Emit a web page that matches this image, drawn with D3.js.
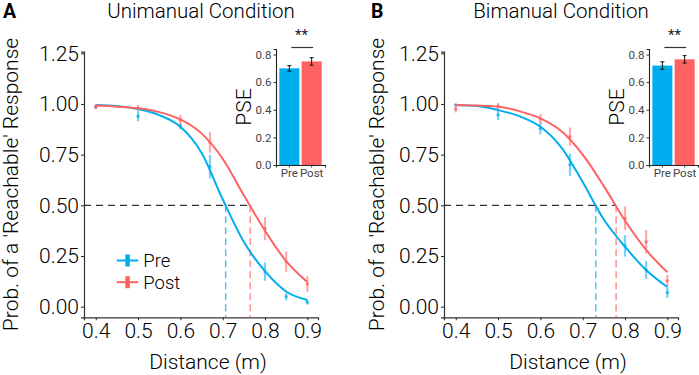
<!DOCTYPE html>
<html><head><meta charset="utf-8">
<script src="https://cdn.jsdelivr.net/npm/d3@7"></script>
<style>
html,body{margin:0;padding:0;background:#fff;}
svg{display:block;font-family:Roboto,"Liberation Sans",Arial,sans-serif;}
</style></head>
<body><svg id="c" width="699" height="375"></svg>
<script>
// ---------- DATA ----------
const distances = [0.4, 0.5, 0.6, 0.67, 0.8, 0.85, 0.9];
const xTicks = [0.4, 0.5, 0.6, 0.7, 0.8, 0.9];
const yTicks = [0, 0.25, 0.5, 0.75, 1.0, 1.25];
const insetTicks = [0, 0.2, 0.4, 0.6, 0.8];
const groups = ["Pre", "Post"];
const panelLetters = ["A", "B"];
const panelTitles = ["Unimanual Condition", "Bimanual Condition"];

// observed means and error bars
const uniPreMean  = [0.985, 0.94, 0.89, 0.69, 0.173, 0.05, 0.022];
const uniPreErr   = [0.008, 0.025, 0.015, 0.058, 0.045, 0.018, 0.012];
const uniPostMean = [0.987, 0.98, 0.92, 0.81, 0.385, 0.222, 0.112];
const uniPostErr  = [0.012, 0.015, 0.025, 0.05, 0.057, 0.05, 0.038];
const biPreMean   = [0.995, 0.946, 0.88, 0.70, 0.30, 0.181, 0.069];
const biPreErr    = [0.008, 0.025, 0.03, 0.055, 0.053, 0.044, 0.026];
const biPostMean  = [0.975, 0.99, 0.926, 0.839, 0.436, 0.32, 0.128];
const biPostErr   = [0.017, 0.015, 0.025, 0.045, 0.058, 0.058, 0.029];

// fitted curves
const fitX        = [0.4, 0.45, 0.5, 0.55, 0.6, 0.65, 0.7, 0.75, 0.8, 0.85, 0.9];
const uniPreFit   = [0.995, 0.99, 0.975, 0.945, 0.888, 0.76, 0.53, 0.32, 0.175, 0.075, 0.033];
const uniPostFit  = [0.992, 0.987, 0.979, 0.96, 0.924, 0.855, 0.73, 0.55, 0.375, 0.225, 0.122];
const biPreFit    = [0.995, 0.99, 0.97, 0.94, 0.888, 0.785, 0.615, 0.43, 0.296, 0.181, 0.097];
const biPostFit   = [0.995, 0.992, 0.987, 0.965, 0.929, 0.865, 0.75, 0.595, 0.425, 0.28, 0.17];

// 50% thresholds (dashed lines)
const uniThreshold = [0.707, 0.765];
const biThreshold  = [0.731, 0.779];

// PSE insets
const uniPSE    = [0.70, 0.75];
const uniPSEErr = [0.02, 0.027];
const biPSE     = [0.72, 0.765];
const biPSEErr  = [0.027, 0.027];
const sigLabel  = "**";

// ---------- STYLE ----------
const colors = {Pre: "#00AEEF", Post: "#FF6262"};
const FONT = 21;
const FAM = "Roboto,'Liberation Sans',Arial,sans-serif";

const svg = d3.select("#c");

const panels = [
  {dx: 0, ldx: 0, mean: [uniPreMean, uniPostMean], err: [uniPreErr, uniPostErr],
   fit: [uniPreFit, uniPostFit], thr: uniThreshold, pse: uniPSE, pseErr: uniPSEErr,
   insetX: 276, legend: true},
  {dx: 360, ldx: 366, mean: [biPreMean, biPostMean], err: [biPreErr, biPostErr],
   fit: [biPreFit, biPostFit], thr: biThreshold, pse: biPSE, pseErr: biPSEErr,
   insetX: 649, legend: false}
];

panels.forEach((p, i) => {
  const g = svg.append("g");
  const x = d3.scaleLinear().domain([0.3722, 0.9253]).range([84 + p.dx, 318 + p.dx]);
  const y = d3.scaleLinear().domain([-0.0523, 1.2580]).range([317.3, 51.7]);

  // letter + title
  g.append("text").attr("x", i === 0 ? 3 : 371).attr("y", 17.5)
    .attr("font-size", 19.5).attr("font-weight", 700).text(panelLetters[i]);
  g.append("text").attr("x", 201 + p.dx).attr("y", 17.5).attr("text-anchor", "middle")
    .attr("font-size", 20.5).attr("font-weight", 300).text(panelTitles[i]);

  // axes
  const ya = g.append("g").attr("transform", `translate(${84 + p.dx},0)`)
    .call(d3.axisLeft(y).tickValues(yTicks).tickSizeOuter(0).tickSize(3).tickPadding(2)
      .tickFormat(d3.format(".2f")));
  const xa = g.append("g").attr("transform", `translate(0,317.3)`)
    .call(d3.axisBottom(x).tickValues(xTicks).tickSizeOuter(0).tickSize(3).tickPadding(3)
      .tickFormat(d3.format(".1f")));
  [ya, xa].forEach(a => {
    a.attr("font-size", FONT).attr("font-family", FAM);
    a.select(".domain").attr("stroke", "#333").attr("stroke-width", 1.2);
    a.selectAll(".tick line").attr("stroke", "#333").attr("stroke-width", 1.1);
    a.selectAll(".tick text").attr("fill", "#000").attr("font-size", FONT)
      .attr("font-weight", 300).attr("font-family", FAM);
  });

  // axis titles
  g.append("text").attr("transform", `translate(${17.5 + p.ldx},184.5) rotate(-90)`)
    .attr("text-anchor", "middle").attr("font-size", FONT).attr("font-weight", 300)
    .text("Prob. of a 'Reachable' Response");
  g.append("text").attr("x", 208 + p.dx).attr("y", 369).attr("text-anchor", "middle")
    .attr("font-size", FONT).attr("font-weight", 300).text("Distance (m)");

  // dashed reference lines
  g.append("line").attr("x1", x.range()[0]).attr("x2", x(p.thr[1]))
    .attr("y1", y(0.5)).attr("y2", y(0.5))
    .attr("stroke", "#333").attr("stroke-width", 1.2).attr("stroke-dasharray", "7,5");
  groups.forEach((grp, k) => {
    g.append("line").attr("x1", x(p.thr[k])).attr("x2", x(p.thr[k]))
      .attr("y1", y(0.5)).attr("y2", y.range()[0])
      .attr("stroke", colors[grp]).attr("stroke-opacity", 0.75)
      .attr("stroke-width", 1.4).attr("stroke-dasharray", "7,4");
  });

  // error bars + points
  groups.forEach((grp, k) => {
    const pts = distances.map((d, j) => ({d, m: p.mean[k][j], e: p.err[k][j]}));
    g.selectAll(null).data(pts).enter().append("line")
      .attr("x1", d => x(d.d)).attr("x2", d => x(d.d))
      .attr("y1", d => y(d.m - d.e)).attr("y2", d => y(d.m + d.e))
      .attr("stroke", colors[grp]).attr("stroke-opacity", 0.55).attr("stroke-width", 2.2);
    g.selectAll(null).data(pts).enter().append("circle")
      .attr("cx", d => x(d.d)).attr("cy", d => y(d.m)).attr("r", 1.6)
      .attr("fill", colors[grp]).attr("fill-opacity", 0.8);
  });

  // fitted curves
  const line = d3.line().x(d => x(d[0])).y(d => y(d[1])).curve(d3.curveMonotoneX);
  groups.forEach((grp, k) => {
    g.append("path").datum(fitX.map((v, j) => [v, p.fit[k][j]]))
      .attr("d", line).attr("fill", "none").attr("stroke", colors[grp]).attr("stroke-width", 2);
  });

  // legend
  if (p.legend) {
    groups.forEach((grp, k) => {
      const ly = 260.5 + k * 21.7;
      g.append("line").attr("x1", 116.7).attr("x2", 138.3).attr("y1", ly).attr("y2", ly)
        .attr("stroke", colors[grp]).attr("stroke-width", 2);
      g.append("rect").attr("x", 125.3).attr("y", ly - 6).attr("width", 4.5).attr("height", 12)
        .attr("fill", colors[grp]);
      g.append("text").attr("x", 143.3).attr("y", ly).attr("dy", "0.36em")
        .attr("font-size", 18.5).attr("font-weight", 300).text(grp);
    });
  }

  // inset
  const ix0 = p.insetX;
  const xi = d3.scaleBand().domain(groups).range([ix0, ix0 + 49]).paddingInner(0.1).paddingOuter(0.15);
  const yi = d3.scaleLinear().domain([0, 0.84]).range([165, 49]);
  const ig = g.append("g");
  ig.selectAll(null).data(groups).enter().append("rect")
    .attr("x", d => xi(d)).attr("width", xi.bandwidth())
    .attr("y", (d, k) => yi(p.pse[k])).attr("height", (d, k) => yi(0) - yi(p.pse[k]))
    .attr("fill", d => colors[d]);
  groups.forEach((grp, k) => {
    const cx = xi(grp) + xi.bandwidth() / 2;
    const lo = yi(p.pse[k] - p.pseErr[k]), hi = yi(p.pse[k] + p.pseErr[k]);
    ig.append("path").attr("d", `M${cx},${lo}V${hi}M${cx - 2},${lo}H${cx + 2}M${cx - 2},${hi}H${cx + 2}`)
      .attr("stroke", "#111").attr("stroke-width", 1).attr("fill", "none");
  });
  const iya = ig.append("g").attr("transform", `translate(${ix0},0)`)
    .call(d3.axisLeft(yi).tickValues(insetTicks).tickSizeOuter(0).tickSize(2.5).tickPadding(2)
      .tickFormat(d3.format(".1f")));
  const ixa = ig.append("g").attr("transform", `translate(0,165)`)
    .call(d3.axisBottom(xi).tickSizeOuter(0).tickSize(2.5).tickPadding(1));
  [iya, ixa].forEach(a => {
    a.attr("font-family", FAM);
    a.select(".domain").attr("stroke", "#222").attr("stroke-width", 1.1);
    a.selectAll(".tick line").attr("stroke", "#333");
    a.selectAll(".tick text").attr("fill", "#444").attr("font-size", 11.5)
      .attr("font-family", FAM);
  });
  ig.append("text").attr("transform", `translate(${ix0 - 25},107) rotate(-90)`)
    .attr("text-anchor", "middle").attr("font-size", FONT).attr("font-weight", 300).text("PSE");
  const c0 = xi("Pre") + xi.bandwidth() / 2, c1 = xi("Post") + xi.bandwidth() / 2;
  ig.append("line").attr("x1", c0 + 2).attr("x2", c1 + 1.5).attr("y1", 47.5).attr("y2", 47.5)
    .attr("stroke", "#333").attr("stroke-width", 1.2);
  ig.append("text").attr("x", (c0 + c1) / 2 + 1).attr("y", 40).attr("text-anchor", "middle")
    .attr("font-size", 15).attr("fill", "#222").text(sigLabel);
});
</script></body></html>
